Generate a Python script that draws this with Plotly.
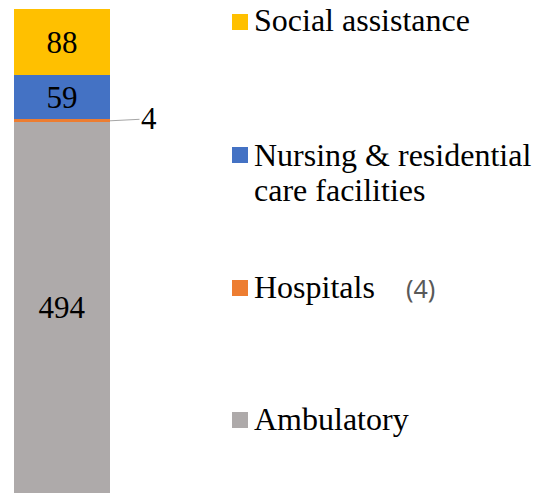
import plotly.graph_objects as go

# Stacked employment components (bottom to top)
categories = ["Ambulatory", "Hospitals", "Nursing & residential care facilities", "Social assistance"]
values = [494, 4, 59, 88]
colors = ["#AEAAAA", "#ED7D31", "#4472C4", "#FFC000"]
label_inside = [True, False, True, True]

W, H = 543, 493
total = sum(values)
SERIF = "Liberation Serif"

fig = go.Figure()
for name, v, c, inside in zip(categories, values, colors, label_inside):
    fig.add_trace(go.Bar(
        x=[0], y=[v], name=name, marker=dict(color=c, line=dict(width=0)),
        text=[str(v)] if inside else [""], textposition="inside",
        insidetextanchor="middle", textangle=0,
        textfont=dict(family=SERIF, size=31, color="black"),
        showlegend=False, hoverinfo="skip",
    ))

# Outside label for the thin Hospitals segment, with a leader line
fig.add_annotation(x=0.5, y=values[0] + values[1] / 2, xref="x", yref="y",
                   text=str(values[1]), showarrow=True, arrowhead=0,
                   arrowwidth=1, arrowcolor="#A6A6A6", standoff=0,
                   ax=39, ay=-2,
                   font=dict(family=SERIF, size=31, color="black"))

# Legend drawn on the right side: square swatch plus wrapped label lines
legend_square = [420, 288, 155, 22]      # swatch centers, px from top
legend_lines = [
    [("Ambulatory", 419)],
    [("Hospitals", 287)],
    [("Nursing & residential", 155), ("care facilities", 190)],
    [("Social assistance", 20)],
]
for c, sq, lines in zip(colors, legend_square, legend_lines):
    fig.add_shape(type="rect", xref="paper", yref="paper",
                  x0=232 / W, x1=248 / W, y0=1 - (sq + 8) / H, y1=1 - (sq - 8) / H,
                  fillcolor=c, line=dict(width=0))
    for txt, yc in lines:
        fig.add_annotation(xref="paper", yref="paper", x=252 / W, y=1 - yc / H,
                           xanchor="left", yanchor="middle", align="left",
                           text=txt, showarrow=False,
                           font=dict(family=SERIF, size=32, color="black"))
fig.add_annotation(xref="paper", yref="paper", x=404 / W, y=1 - 288 / H,
                   xanchor="left", yanchor="middle", text="(4)", showarrow=False,
                   font=dict(family="Noto Sans", size=25, color="#595959"))

fig.update_layout(
    width=W, height=H, barmode="stack", bargap=0,
    margin=dict(l=0, r=0, t=0, b=0),
    paper_bgcolor="white", plot_bgcolor="white",
    xaxis=dict(domain=[14 / W, 110 / W], range=[-0.5, 0.5], visible=False),
    yaxis=dict(domain=[0, (H - 9) / H], range=[0, total], visible=False),
)

fig.write_html("out.html")
